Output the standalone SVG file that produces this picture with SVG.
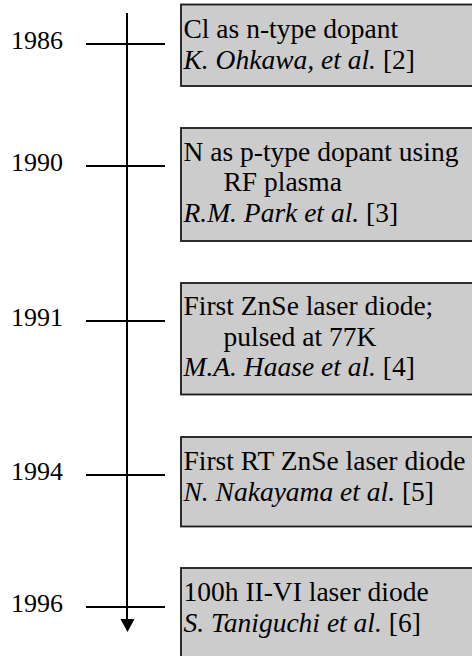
<svg xmlns="http://www.w3.org/2000/svg" width="472" height="656" viewBox="0 0 472 656">
<style>
text{font-family:'Liberation Serif','Times New Roman',Times,serif;font-size:27.5px;fill:#000}
.yr{font-size:26px}
.it{font-style:italic}
.box{fill:#cccccc;stroke:#1a1a1a;stroke-width:1.8}
.ln{stroke:#000;stroke-width:2;fill:none}
</style>
<rect width="472" height="656" fill="#fff"/>
<g id="connectors">
<line class="ln" x1="127" y1="13" x2="127" y2="621"/>
<polygon points="120.5,619 134.5,619 127.5,632" fill="#000"/>
<line class="ln" x1="86" y1="44" x2="165" y2="44"/>
<line class="ln" x1="86" y1="166" x2="165" y2="166"/>
<line class="ln" x1="86" y1="321" x2="165" y2="321"/>
<line class="ln" x1="86" y1="475" x2="165" y2="475"/>
<line class="ln" x1="86" y1="607" x2="165" y2="607"/>
</g>
<g id="years">
<text class="yr" x="11" y="48.5">1986</text>
<text class="yr" x="11" y="170.5">1990</text>
<text class="yr" x="11" y="325.5">1991</text>
<text class="yr" x="11" y="479.5">1994</text>
<text class="yr" x="11" y="611.5">1996</text>
</g>
<g id="n1986">
<rect class="box" x="181" y="4.5" width="300" height="81.5"/>
<text x="183.5" y="38">Cl as n-type dopant</text>
<text x="183.5" y="68.5"><tspan class="it">K. Ohkawa, et al.</tspan> [2]</text>
</g>
<g id="n1990">
<rect class="box" x="181" y="128" width="300" height="113"/>
<text x="183.5" y="160.5">N as p-type dopant using</text>
<text x="223.5" y="191">RF plasma</text>
<text x="183.5" y="221.5"><tspan class="it">R.M. Park et al.</tspan> [3]</text>
</g>
<g id="n1991">
<rect class="box" x="181" y="283" width="300" height="111.5"/>
<text x="183.5" y="315">First ZnSe laser diode;</text>
<text x="223.5" y="345.5">pulsed at 77K</text>
<text x="183.5" y="376"><tspan class="it">M.A. Haase et al.</tspan> [4]</text>
</g>
<g id="n1994">
<rect class="box" x="181" y="437" width="300" height="89.5"/>
<text x="183.5" y="470">First RT ZnSe laser diode</text>
<text x="183.5" y="500.5"><tspan class="it">N. Nakayama et al.</tspan> [5]</text>
</g>
<g id="n1996">
<rect class="box" x="181" y="568" width="300" height="100"/>
<text x="183.5" y="601">100h II-VI laser diode</text>
<text x="183.5" y="631.5"><tspan class="it">S. Taniguchi et al.</tspan> [6]</text>
</g>
</svg>
